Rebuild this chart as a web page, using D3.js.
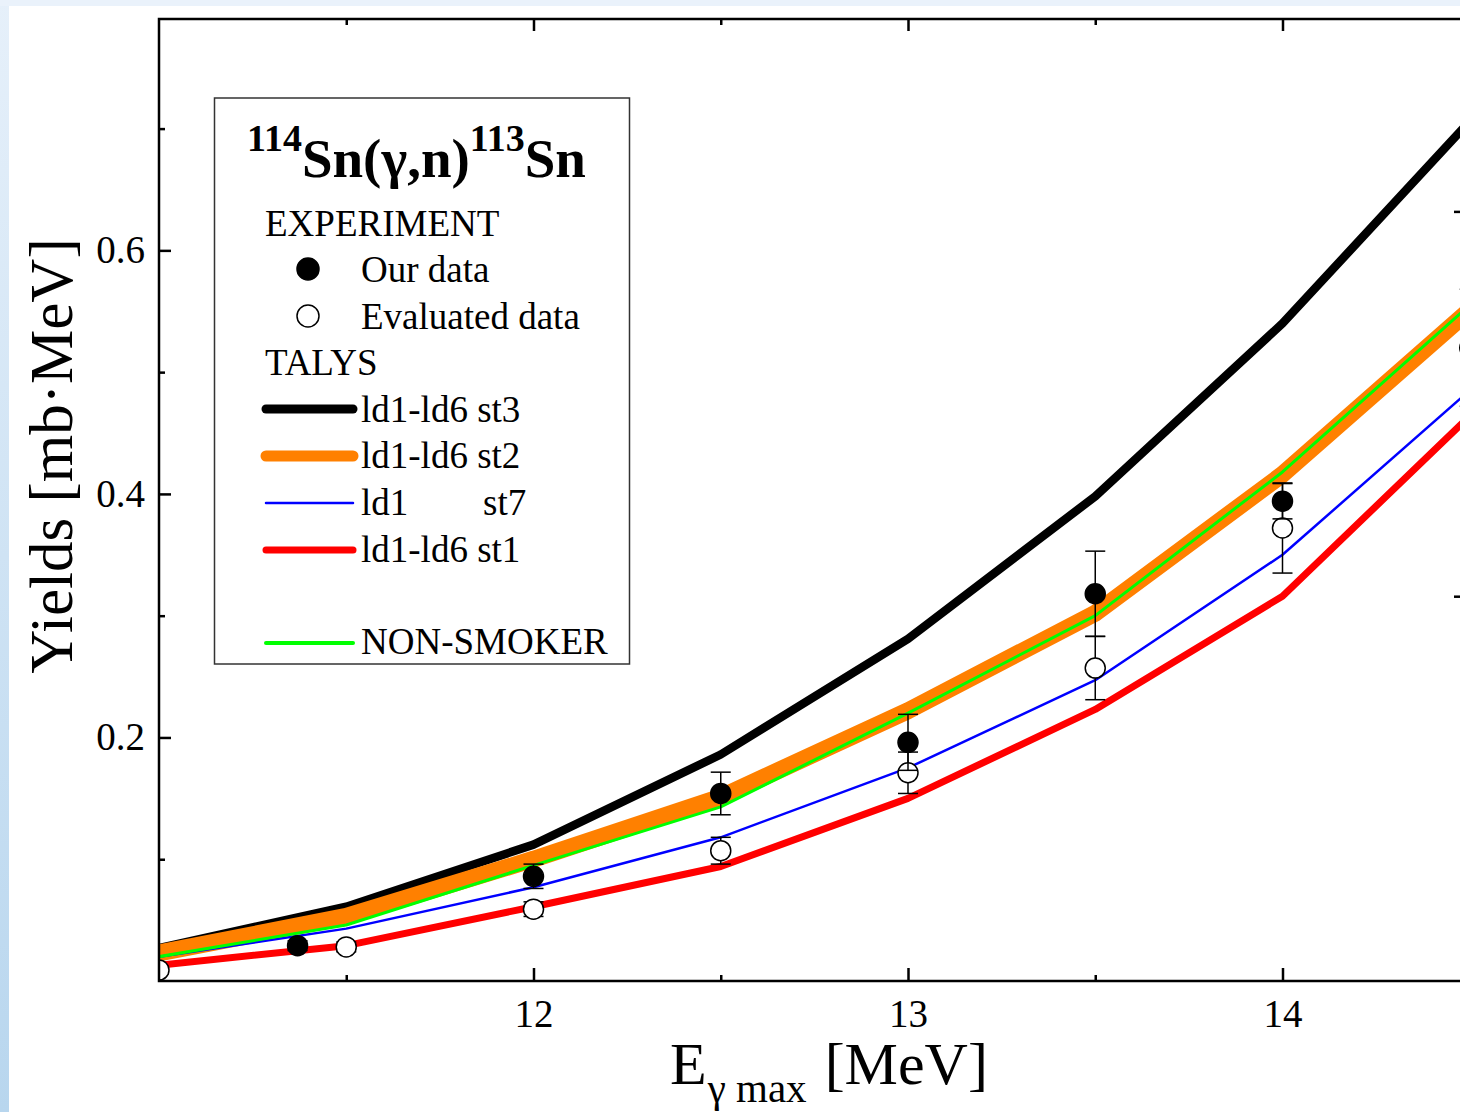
<!DOCTYPE html>
<head>
  <meta charset="UTF-8">
  <title>114Sn yields</title>
  <style>
  body, html, svg{
    padding: 0;
    margin: 0;
  }
  body{
    background: #fff;
    overflow: hidden;
  }
  text{
    font-family: "Liberation Serif", "Times New Roman", serif;
    fill: #000;
  }
  </style>
</head>
<body>
  <script src="https://cdn.jsdelivr.net/npm/d3@7/dist/d3.min.js"></script>
  <script type="text/javascript">
  // TALYS / NON-SMOKER curves, 0.5 MeV grid
  var energy    = [11.0, 11.5, 12.0, 12.5, 13.0, 13.5, 14.0, 14.5];
  var talysSt3  = [0.027, 0.061, 0.112, 0.186, 0.281, 0.398, 0.540, 0.706];
  var talysSt2  = [0.023, 0.053, 0.100, 0.151, 0.222, 0.302, 0.416, 0.551];
  var talysSt7  = [0.020, 0.043, 0.077, 0.118, 0.175, 0.247, 0.350, 0.485];
  var talysSt1  = [0.013, 0.029, 0.061, 0.094, 0.150, 0.223, 0.316, 0.464];
  var nonSmoker = [0.020, 0.046, 0.095, 0.143, 0.220, 0.300, 0.418, 0.555];

  // experiment
  var ourE   = [11.37, 12.0, 12.5, 13.0, 13.5, 14.0];
  var ourY   = [0.029, 0.086, 0.154, 0.196, 0.318, 0.394];
  var ourErr = [0.004, 0.010, 0.0175, 0.023, 0.035, 0.0145];
  var evalE   = [11.0, 11.5, 12.0, 12.5, 13.0, 13.5, 14.0, 14.5];
  var evalY   = [0.009, 0.028, 0.059, 0.107, 0.171, 0.257, 0.372, 0.520];
  var evalErr = [0.003, 0.004, 0.006, 0.011, 0.017, 0.026, 0.037, 0.048];

  var xMajor = [12, 13, 14];
  var xMinor = [11.5, 12.5, 13.5];
  var yMajor = [0.2, 0.4, 0.6];
  var yMinor = [0.1, 0.3, 0.5, 0.7];
  var rMajor = [0.4, 0.8];
  var rMinor = [0.2, 0.6];

  var width = 1460, height = 1112;
  var svg = d3.select('body').append('svg')
    .attr('width', width)
    .attr('height', height);

  // slide background
  var defs = svg.append('defs');
  var grad = defs.append('linearGradient').attr('id', 'bg')
    .attr('x1', 0).attr('y1', 0).attr('x2', 0).attr('y2', 1);
  grad.append('stop').attr('offset', '0%').attr('stop-color', '#e6f0fa');
  grad.append('stop').attr('offset', '100%').attr('stop-color', '#b8d6ee');
  svg.append('rect').attr('width', width).attr('height', height).attr('fill', 'url(#bg)');
  svg.append('rect').attr('x', 0).attr('y', 0).attr('width', width).attr('height', 6).attr('fill', '#eaf2fb');
  svg.append('rect').attr('x', 9).attr('y', 6).attr('width', width).attr('height', height).attr('fill', '#fff');

  var x = d3.scaleLinear().domain([11.0, 14.49]).range([159, 1466]);
  var y = d3.scaleLinear().domain([0, 0.79]).range([981, 19]);
  var yR = d3.scaleLinear().domain([0, 1]).range([981, 19]);

  defs.append('clipPath').attr('id', 'plot')
    .append('rect')
    .attr('x', x.range()[0]).attr('y', y.range()[1])
    .attr('width', x.range()[1] - x.range()[0])
    .attr('height', y.range()[0] - y.range()[1]);

  var plot = svg.append('g').attr('clip-path', 'url(#plot)');

  var curves = [
    {v: talysSt3, color: '#000', w: 8.5},
    {v: talysSt2, color: '#ff8000', w: 17},
    {v: talysSt7, color: '#0000ff', w: 2.5},
    {v: talysSt1, color: '#ff0000', w: 7},
    {v: nonSmoker, color: '#00ff00', w: 3}
  ];

  var line = d3.line()
    .x(function(d) { return x(d[0]); })
    .y(function(d) { return y(d[1]); });

  curves.forEach(function(c) {
    plot.append('path')
      .datum(energy.map(function(e, i) { return [e, c.v[i]]; }))
      .attr('d', line)
      .attr('fill', 'none')
      .attr('stroke', c.color)
      .attr('stroke-width', c.w)
      .attr('stroke-linejoin', 'round');
  });

  //误差棒 + 点
  function drawPoints(E, Y, Err, fill) {
    var pts = E.map(function(e, i) { return {e: e, v: Y[i], err: Err[i]}; });
    var g = plot.append('g');
    var bars = g.selectAll('g.err').data(pts).enter().append('g')
      .attr('stroke', '#000').attr('stroke-width', 1.5);
    bars.append('line')
      .attr('x1', function(d) { return x(d.e); })
      .attr('x2', function(d) { return x(d.e); })
      .attr('y1', function(d) { return y(d.v + d.err); })
      .attr('y2', function(d) { return y(d.v - d.err); });
    [1, -1].forEach(function(s) {
      bars.append('line')
        .attr('x1', function(d) { return x(d.e) - 10; })
        .attr('x2', function(d) { return x(d.e) + 10; })
        .attr('y1', function(d) { return y(d.v + s * d.err); })
        .attr('y2', function(d) { return y(d.v + s * d.err); });
    });
    g.selectAll('circle').data(pts).enter().append('circle')
      .attr('cx', function(d) { return x(d.e); })
      .attr('cy', function(d) { return y(d.v); })
      .attr('r', 10)
      .attr('fill', fill)
      .attr('stroke', '#000')
      .attr('stroke-width', 1.5);
  }
  drawPoints(evalE, evalY, evalErr, '#fff');
  drawPoints(ourE, ourY, ourErr, '#000');

  // axes
  function ax(gen, vals, size, fmt, tx, ty, fontSize, pad) {
    var g = svg.append('g')
      .attr('transform', 'translate(' + tx + ',' + ty + ')')
      .call(gen.tickValues(vals).tickSize(size).tickSizeOuter(0)
        .tickPadding(pad || 3).tickFormat(fmt));
    g.select('.domain').remove();
    g.selectAll('line').attr('stroke', '#000').attr('stroke-width', 2.5);
    g.selectAll('text').attr('font-size', fontSize || 10)
      .attr('font-family', '"Liberation Serif", serif').attr('fill', '#000');
    return g;
  }
  var none = function() { return ''; };
  var x0 = x.range()[0], x1 = x.range()[1], y0 = y.range()[0], y1 = y.range()[1];

  ax(d3.axisBottom(x), xMajor, -13, d3.format('d'), 0, y0, 39, 18);
  ax(d3.axisBottom(x), xMinor, -6, none, 0, y0);
  ax(d3.axisTop(x), xMajor, -12, none, 0, y1);
  ax(d3.axisTop(x), xMinor, -6, none, 0, y1);
  ax(d3.axisLeft(y), yMajor, -12, d3.format('.1f'), x0, 0, 39, 14);
  ax(d3.axisLeft(y), yMinor, -6, none, x0, 0);
  ax(d3.axisRight(yR), rMajor, -12, none, x1, 0);
  ax(d3.axisRight(yR), rMinor, -6, none, x1, 0);

  svg.append('rect')
    .attr('x', x0).attr('y', y1)
    .attr('width', x1 - x0).attr('height', y0 - y1)
    .attr('fill', 'none').attr('stroke', '#000').attr('stroke-width', 2.5);

  // axis titles
  var xt = svg.append('text').attr('x', 670).attr('y', 1084).attr('font-size', 60);
  xt.append('tspan').text('E');
  xt.append('tspan').attr('font-size', 41).attr('dy', 18).attr('dx', 1).text('γ max');
  xt.append('tspan').attr('dy', -18).attr('dx', 18).text('[MeV]');

  svg.append('text')
    .attr('transform', 'translate(72,456) rotate(-90)')
    .attr('text-anchor', 'middle')
    .attr('font-size', 61)
    .text('Yields [mb·MeV]');

  // legend
  var lg = svg.append('g');
  lg.append('rect')
    .attr('x', 214.5).attr('y', 98).attr('width', 415).attr('height', 566)
    .attr('fill', '#fff').attr('stroke', '#333').attr('stroke-width', 1.5);

  var title = lg.append('text').attr('x', 247).attr('y', 177)
    .attr('font-weight', 'bold').attr('font-size', 55);
  title.append('tspan').attr('font-size', 38).attr('dy', -26).text('114');
  title.append('tspan').attr('dy', 26).text('Sn(γ,n)');
  title.append('tspan').attr('font-size', 38).attr('dy', -26).text('113');
  title.append('tspan').attr('dy', 26).text('Sn');

  var fs = 37;
  lg.append('text').attr('x', 265).attr('y', 236).attr('font-size', fs).text('EXPERIMENT');
  lg.append('text').attr('x', 265).attr('y', 375).attr('font-size', fs).text('TALYS');

  var markLeg = [
    {label: 'Our data', fill: '#000', cy: 269, ty: 282},
    {label: 'Evaluated data', fill: '#fff', cy: 316, ty: 329}
  ];
  markLeg.forEach(function(m) {
    lg.append('circle').attr('cx', 308).attr('cy', m.cy).attr('r', 11)
      .attr('fill', m.fill).attr('stroke', '#000').attr('stroke-width', 1.5);
    lg.append('text').attr('x', 361).attr('y', m.ty).attr('font-size', fs).text(m.label);
  });

  var lineLeg = [
    {label: 'ld1-ld6 st3', color: '#000', w: 9, ly: 409, ty: 422},
    {label: 'ld1-ld6 st2', color: '#ff8000', w: 11, ly: 456, ty: 468},
    {label: 'ld1', extra: 'st7', color: '#0000ff', w: 2.5, ly: 503, ty: 515},
    {label: 'ld1-ld6 st1', color: '#ff0000', w: 7, ly: 550, ty: 562},
    {label: 'NON-SMOKER', color: '#00ff00', w: 4, ly: 643, ty: 654}
  ];
  lineLeg.forEach(function(l) {
    lg.append('line')
      .attr('x1', 266).attr('x2', 353)
      .attr('y1', l.ly).attr('y2', l.ly)
      .attr('stroke', l.color).attr('stroke-width', l.w)
      .attr('stroke-linecap', 'round');
    lg.append('text').attr('x', 361).attr('y', l.ty).attr('font-size', fs).text(l.label);
    if (l.extra) {
      lg.append('text').attr('x', 483).attr('y', l.ty).attr('font-size', fs).text(l.extra);
    }
  });
  </script>
</body>
</html>
